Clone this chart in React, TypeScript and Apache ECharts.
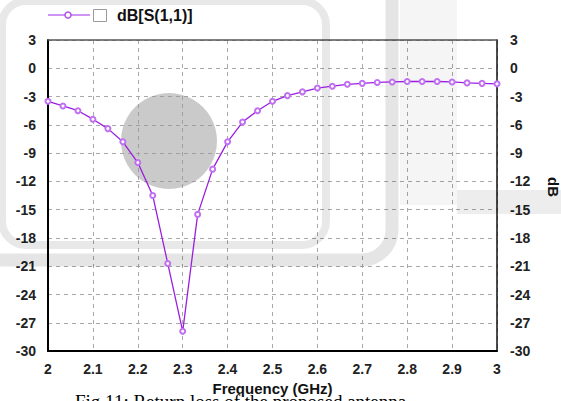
import React, { useEffect, useRef } from "react";
import * as echarts from "echarts";

const frequencyGHz = [
  2.0, 2.0333, 2.0667, 2.1, 2.1333, 2.1667, 2.2, 2.2333, 2.2667, 2.3, 2.3333,
  2.3667, 2.4, 2.4333, 2.4667, 2.5, 2.5333, 2.5667, 2.6, 2.6333, 2.6667, 2.7,
  2.7333, 2.7667, 2.8, 2.8333, 2.8667, 2.9, 2.9333, 2.9667, 3.0,
];
const s11dB = [
  -3.5, -4.0, -4.5, -5.4, -6.4, -7.8, -10.0, -13.5, -20.7, -27.9, -15.5,
  -10.7, -7.8, -5.7, -4.5, -3.5, -2.9, -2.5, -2.1, -1.9, -1.7, -1.6,
  -1.5, -1.45, -1.4, -1.4, -1.4, -1.45, -1.55, -1.6, -1.65,
];
const seriesName = "dB[S(1,1)]";
const xAxisName = "Frequency (GHz)";
const yAxisName = "dB";
const captionText = "Fig 11: Return loss of the proposed antenna";

export default function App() {
  const ref = useRef<HTMLDivElement>(null);
  useEffect(() => {
    const chart = echarts.init(ref.current!, null, { renderer: "svg" });
    const purple = "#9a1ee0";
    const tickFont = {
      fontFamily: "Liberation Sans, Arial, sans-serif",
      fontWeight: "bold" as const,
      fontSize: 14,
      color: "#222",
    };
    const split = {
      show: true,
      lineStyle: { color: "#a8a8a8", type: [4, 4] as any, width: 1 },
    };
    const data = frequencyGHz.map((f, i) => [f, s11dB[i]]);
    const fmtX = (v: number) => String(parseFloat(v.toFixed(2)));
    chart.setOption({
      animation: false,
      backgroundColor: "#fff",
      grid: { left: 48, right: 64, top: 40, bottom: 45, containLabel: false },
      xAxis: [
        {
          type: "value",
          min: 2,
          max: 3,
          interval: 0.1,
          position: "bottom",
          name: xAxisName,
          nameLocation: "middle",
          nameGap: 23,
          nameTextStyle: { ...tickFont, fontSize: 15, color: "#111" },
          axisLine: { show: true, onZero: false, lineStyle: { color: "#000", width: 2 } },
          axisTick: { show: false },
          axisLabel: { ...tickFont, margin: 11, formatter: fmtX },
          splitLine: split,
        },
        {
          type: "value",
          min: 2,
          max: 3,
          interval: 0.1,
          position: "top",
          axisLine: { show: true, onZero: false, lineStyle: { color: "#555", width: 1.5 } },
          axisTick: { show: false },
          axisLabel: { show: false },
          splitLine: { show: false },
        },
      ],
      yAxis: [
        {
          type: "value",
          min: -30,
          max: 3,
          interval: 3,
          position: "left",
          axisLine: { show: true, onZero: false, lineStyle: { color: "#000", width: 2 } },
          axisTick: { show: false },
          axisLabel: { ...tickFont, margin: 12 },
          splitLine: split,
        },
        {
          type: "value",
          min: -30,
          max: 3,
          interval: 3,
          position: "right",
          axisLine: { show: true, onZero: false, lineStyle: { color: "#111", width: 1.5 } },
          axisTick: { show: false },
          axisLabel: { ...tickFont, margin: 13 },
          splitLine: { show: false },
        },
      ],
      series: [
        {
          name: seriesName,
          type: "line",
          data,
          z: 5,
          symbol: "emptyCircle",
          symbolSize: 5,
          lineStyle: { color: purple, width: 1.3 },
          itemStyle: { color: "#c070f0", borderColor: "#b050e8", borderWidth: 1 },
        },
      ],
      graphic: [
        // faded background artifacts of the scanned figure
        {
          type: "rect",
          z: 1,
          silent: true,
          shape: { x: 2, y: 1, width: 324, height: 244, r: 24 },
          style: { fill: "none", stroke: "rgba(0,0,0,0.09)", lineWidth: 8 },
        },
        {
          type: "rect",
          z: 1,
          silent: true,
          shape: { x: -40, y: -40, width: 432, height: 300, r: 30 },
          style: { fill: "none", stroke: "rgba(0,0,0,0.1)", lineWidth: 13 },
        },
        {
          type: "rect",
          z: 1,
          silent: true,
          shape: { x: 400, y: 0, width: 57, height: 205 },
          style: { fill: "rgba(0,0,0,0.04)" },
        },
        {
          type: "rect",
          z: 1,
          silent: true,
          shape: { x: 457, y: 190, width: 104, height: 24 },
          style: { fill: "rgba(0,0,0,0.07)" },
        },
        {
          type: "circle",
          z: 1,
          silent: true,
          shape: { cx: 169, cy: 141, r: 48 },
          style: { fill: "rgba(150,150,150,0.5)" },
        },
        // legend
        {
          type: "line",
          z: 10,
          shape: { x1: 48, y1: 15, x2: 90, y2: 15 },
          style: { stroke: "#c070f0", lineWidth: 1.5 },
        },
        {
          type: "circle",
          z: 10,
          shape: { cx: 68, cy: 15, r: 3 },
          style: { fill: "#fff", stroke: "#b050e8", lineWidth: 1.5 },
        },
        {
          type: "rect",
          z: 10,
          shape: { x: 93.5, y: 9.5, width: 13, height: 12 },
          style: { fill: "#fff", stroke: "#9a9a9a", lineWidth: 1 },
        },
        {
          type: "text",
          z: 10,
          x: 117,
          y: 15,
          style: {
            text: seriesName,
            fontFamily: "Liberation Sans, Arial, sans-serif",
            fontWeight: "bold",
            fontSize: 16,
            fill: "#111",
            verticalAlign: "middle",
          },
        },
        // right axis name
        {
          type: "text",
          z: 10,
          x: 553,
          y: 187,
          rotation: -Math.PI / 2,
          style: {
            text: yAxisName,
            fontFamily: "Liberation Sans, Arial, sans-serif",
            fontWeight: "bold",
            fontSize: 15,
            fill: "#111",
            align: "center",
            verticalAlign: "middle",
          },
        },
        // caption (cut off by page bottom)
        {
          type: "text",
          z: 10,
          x: 75,
          y: 392,
          style: {
            text: captionText,
            fontFamily: "Liberation Serif, Times New Roman, serif",
            fontSize: 19,
            fill: "#000",
            verticalAlign: "top",
          },
        },
      ],
    });
    return () => chart.dispose();
  }, []);
  return (
    <div
      ref={ref}
      style={{ position: "fixed", left: 0, top: 0, width: 561, height: 401, overflow: "hidden" }}
    />
  );
}
